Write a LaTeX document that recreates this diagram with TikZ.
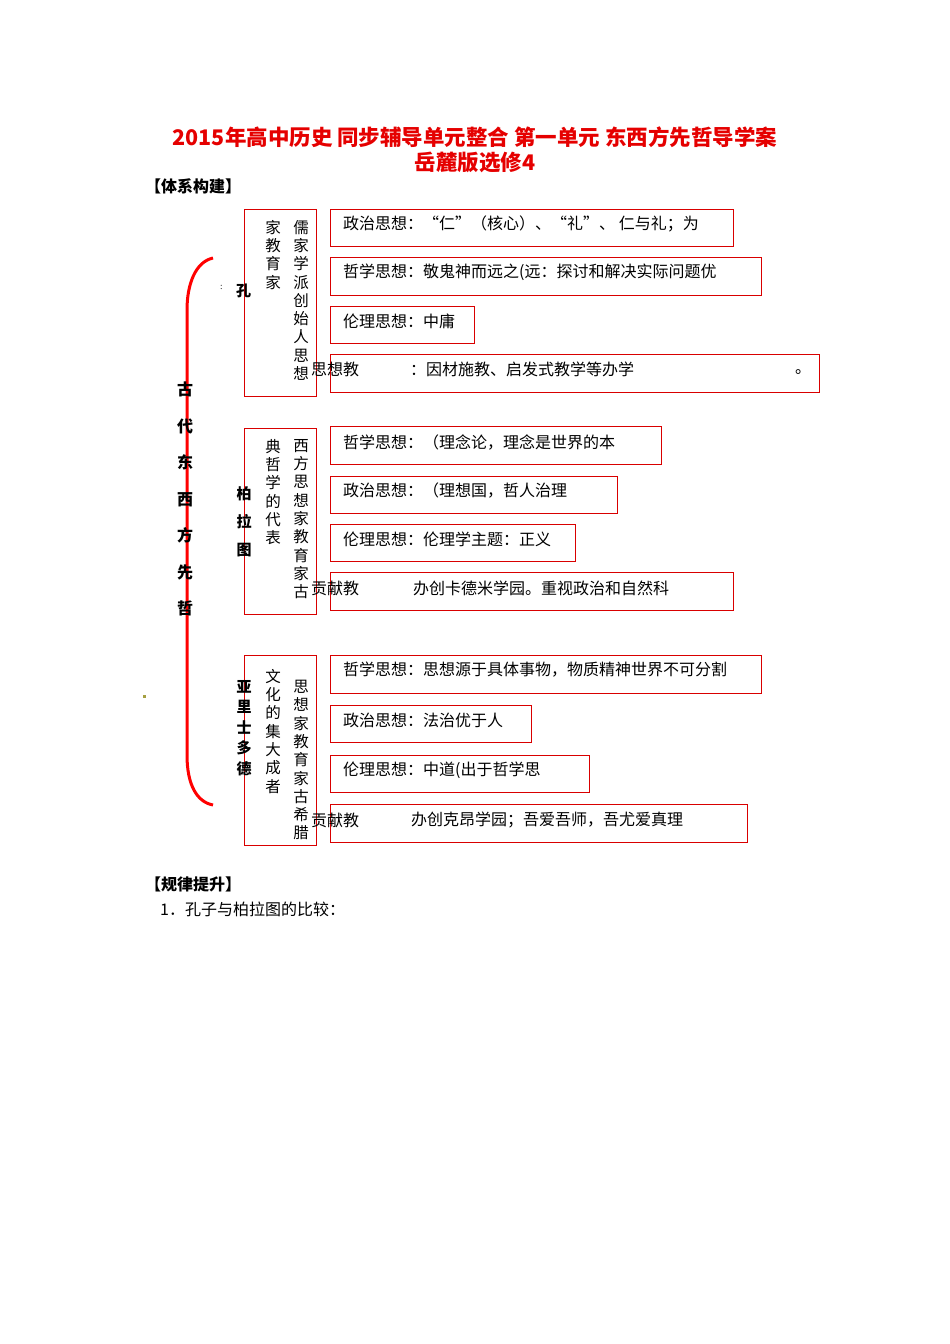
\documentclass[tikz,border=0pt]{standalone}
\usepackage{fontspec}
\setmainfont{Liberation Serif}
\newfontfamily\cjk{Noto Sans CJK SC}
\begin{document}
\begin{tikzpicture}[x=1pt,y=-1pt,
  bx/.style={draw=red!85!black,line width=0.9pt},
  tx/.style={anchor=west,font=\cjk\fontsize{16}{16}\selectfont,inner sep=0},
  vt/.style={align=center,font=\cjk\fontsize{15.5}{18.3}\selectfont,inner sep=0,anchor=north},
  vb/.style={align=center,font=\cjk\bfseries\fontsize{15}{28}\selectfont,inner sep=0,anchor=north}]
\useasboundingbox (0,0) rectangle (950,1344);
\node[font=\cjk\bfseries\fontsize{21.5}{21.5}\selectfont,text=red!90!black] (t1) at (475,137) {2015年高中历史 同步辅导单元整合 第一单元 东西方先哲导学案};
\node[font=\cjk\bfseries\fontsize{21.5}{21.5}\selectfont,text=red!90!black] (t2) at (475,162) {岳麓版选修4};
\node[tx,font=\cjk\bfseries\fontsize{16}{16}\selectfont] (h1) at (145,186) {【体系构建】};
\node[tx,font=\cjk\bfseries\fontsize{16}{16}\selectfont] (h2) at (145,884) {【规律提升】};
\node[tx] (l1) at (160,909) {1．孔子与柏拉图的比较：};
% bracket
\draw[red,line width=3pt] (213,258) .. controls (195,262) and (187,285) .. (187,310) -- (187,755) .. controls (187,785) and (197,802) .. (213,805);
\node[vb,font=\cjk\bfseries\fontsize{16}{36.5}\selectfont] (gd) at (185,382) {古\\代\\东\\西\\方\\先\\哲};
% Confucius
\node[bx,minimum width=72,minimum height=187,anchor=north west] (k0) at (244,209) {};
\node[vt] (k1) at (301,220) {儒\\家\\学\\派\\创\\始\\人\\思\\想};
\node[vt] (k2) at (273,220) {家\\教\\育\\家};
\node[tx,font=\cjk\bfseries\fontsize{15}{15}\selectfont] (kz) at (236,291) {孔};
\node[tx,font=\fontsize{9}{9}\selectfont] (kc) at (220,287) {:};
\node[bx,minimum width=403,minimum height=37,anchor=north west] (ka) at (330,209) {};
\node[tx] at (343,224) {政治思想：“仁”（核心）、“礼”、 仁与礼；为};
\node[bx,minimum width=431,minimum height=38,anchor=north west] (kb) at (330,257) {};
\node[tx] at (343,272) {哲学思想：敬鬼神而远之(远：探讨和解决实际问题优};
\node[bx,minimum width=144,minimum height=37,anchor=north west] (kcx) at (330,306) {};
\node[tx] at (343,321) {伦理思想：中庸};
\node[bx,minimum width=489,minimum height=38,anchor=north west] (kd) at (330,354) {};
\node[tx] at (311,369) {思想教};
\node[tx] at (410,369) {：因材施教、启发式教学等办学};
\node[tx] at (795,372) {。};
% Plato
\node[bx,minimum width=72,minimum height=186,anchor=north west] (p0) at (244,428) {};
\node[vt] (p1) at (301,439) {西\\方\\思\\想\\家\\教\\育\\家\\古};
\node[vt] (p2) at (273,439) {典\\哲\\学\\的\\代\\表};
\node[vb] (pn) at (244,486) {柏\\拉\\图};
\node[bx,minimum width=331,minimum height=38,anchor=north west] (pa) at (330,426) {};
\node[tx] at (343,442) {哲学思想：（理念论，理念是世界的本};
\node[bx,minimum width=287,minimum height=37,anchor=north west] (pb) at (330,476) {};
\node[tx] at (343,491) {政治思想：（理想国，哲人治理};
\node[bx,minimum width=245,minimum height=37,anchor=north west] (pc) at (330,524) {};
\node[tx] at (343,539) {伦理思想：伦理学主题：正义};
\node[bx,minimum width=403,minimum height=38,anchor=north west] (pd) at (330,572) {};
\node[tx] at (311,588) {贡献教};
\node[tx] at (413,588) {办创卡德米学园。重视政治和自然科};
% Aristotle
\node[bx,minimum width=72,minimum height=190,anchor=north west] (a0) at (244,655) {};
\node[vt] (a1) at (301,680) {思\\想\\家\\教\\育\\家\\古\\希\\腊};
\node[vt] (a2) at (273,669) {文\\化\\的\\集\\大\\成\\者};
\node[vb,font=\cjk\bfseries\fontsize{15}{20.5}\selectfont] (an) at (244,680) {亚\\里\\士\\多\\德};
\node[bx,minimum width=431,minimum height=38,anchor=north west] (aa) at (330,655) {};
\node[tx] at (343,670) {哲学思想：思想源于具体事物，物质精神世界不可分割};
\node[bx,minimum width=201,minimum height=37,anchor=north west] (ab) at (330,705) {};
\node[tx] at (343,720) {政治思想：法治优于人};
\node[bx,minimum width=259,minimum height=37,anchor=north west] (ac) at (330,755) {};
\node[tx] at (343,770) {伦理思想：中道(出于哲学思};
\node[bx,minimum width=417,minimum height=38,anchor=north west] (ad) at (330,804) {};
\node[tx] at (311,820) {贡献教};
\node[tx] at (411,820) {办创克昂学园；吾爱吾师，吾尤爱真理};
\fill[yellow!60!black] (143,695) rectangle (146,698);
\end{tikzpicture}
\end{document}
